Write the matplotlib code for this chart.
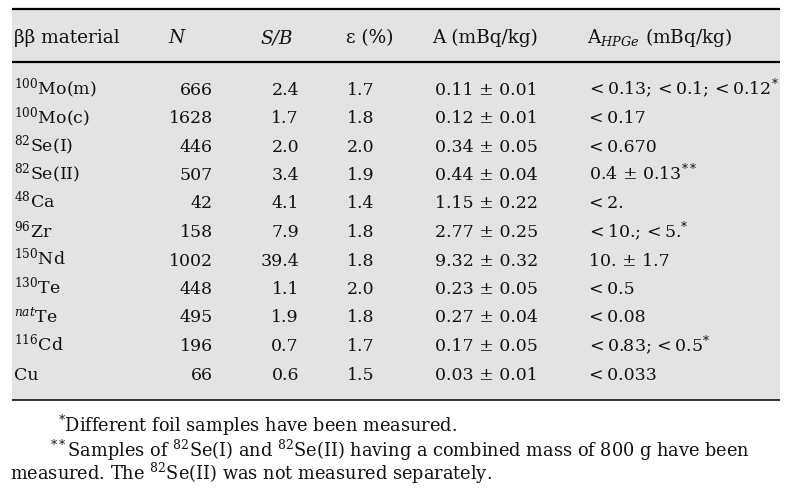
import matplotlib
matplotlib.use("Agg")
import matplotlib.pyplot as plt
from matplotlib.patches import Rectangle

# ---------------- data ----------------
headers = ["ββ material", "N", "S/B", "ε (%)", "A (mBq/kg)", r"A$_{HPGe}$ (mBq/kg)"]
materials = [r"$^{100}$Mo(m)", r"$^{100}$Mo(c)", r"$^{82}$Se(I)", r"$^{82}$Se(II)",
             r"$^{48}$Ca", r"$^{96}$Zr", r"$^{150}$Nd", r"$^{130}$Te",
             r"$^{nat}$Te", r"$^{116}$Cd", "Cu"]
N_events = [666, 1628, 446, 507, 42, 158, 1002, 448, 495, 196, 66]
S_over_B = ["2.4", "1.7", "2.0", "3.4", "4.1", "7.9", "39.4", "1.1", "1.9", "0.7", "0.6"]
efficiency = ["1.7", "1.8", "2.0", "1.9", "1.4", "1.8", "1.8", "2.0", "1.8", "1.7", "1.5"]
A_value = ["0.11", "0.12", "0.34", "0.44", "1.15", "2.77", "9.32", "0.23", "0.27", "0.17", "0.03"]
A_error = ["0.01", "0.01", "0.05", "0.04", "0.22", "0.25", "0.32", "0.05", "0.04", "0.05", "0.01"]
A_hpge = ["<\u20090.13; <\u20090.1; <\u20090.12$^{*}$", "<\u20090.17", "<\u20090.670",
          r"0.4 ± 0.13$^{**}$", "<\u20092.", "<\u200910.; <\u20095.$^{*}$", "10. ± 1.7",
          "<\u20090.5", "<\u20090.08", "<\u20090.83; <\u20090.5$^{*}$", "<\u20090.033"]
footnotes = [r"$^{*}$Different foil samples have been measured.",
             r"$^{**}$Samples of $^{82}$Se(I) and $^{82}$Se(II) having a combined mass of 800 g have been",
             r"measured. The $^{82}$Se(II) was not measured separately."]

# ---------------- layout ----------------
W, H = 792, 503
fig = plt.figure(figsize=(W / 100, H / 100), dpi=100)
ax = fig.add_axes([0, 0, 1, 1])
ax.set_xlim(0, W)
ax.set_ylim(H, 0)
ax.axis('off')

tfont = dict(family='DejaVu Serif', size=12.5, color='#111111', math_fontfamily='dejavuserif')
hfont = dict(tfont, size=13.3)
ffont = dict(family='DejaVu Serif', size=12.8, color='#111111', math_fontfamily='dejavuserif')

ax.add_patch(Rectangle((12, 9), 768, 390.5, facecolor='#e3e3e3', edgecolor='none', zorder=0))
ax.plot([12, 780], [9, 9], color='black', lw=1.6, solid_capstyle='butt')
ax.plot([12, 780], [62, 62], color='black', lw=1.6, solid_capstyle='butt')
ax.plot([12, 780], [400, 400], color='black', lw=1.1, solid_capstyle='butt')

hy = 43
ax.text(14, hy, headers[0], ha='left', va='baseline', **hfont)
ax.text(168, hy, headers[1], ha='left', va='baseline', style='italic', **hfont)
ax.text(260, hy, headers[2], ha='left', va='baseline', style='italic', **hfont)
ax.text(346, hy, headers[3], ha='left', va='baseline', **hfont)
ax.text(432, hy, headers[4], ha='left', va='baseline', **hfont)
ax.text(587, hy, headers[5], ha='left', va='baseline', **hfont)

y0, dy = 94.5, 28.5
for i in range(len(materials)):
    y = y0 + dy * i
    ax.text(14, y, materials[i], ha='left', va='baseline', **tfont)
    ax.text(213, y, str(N_events[i]), ha='right', va='baseline', **tfont)
    ax.text(299, y, S_over_B[i], ha='right', va='baseline', **tfont)
    ax.text(347, y, efficiency[i], ha='left', va='baseline', **tfont)
    ax.text(435, y, f"{A_value[i]} ± {A_error[i]}", ha='left', va='baseline', **tfont)
    ax.text(589, y, A_hpge[i], ha='left', va='baseline', **tfont)

ax.text(58, 432, footnotes[0], ha='left', va='baseline', **ffont)
ax.text(50, 457, footnotes[1], ha='left', va='baseline', **ffont)
ax.text(10, 479.5, footnotes[2], ha='left', va='baseline', **ffont)

fig.savefig("out.png", dpi=100, facecolor='white')
